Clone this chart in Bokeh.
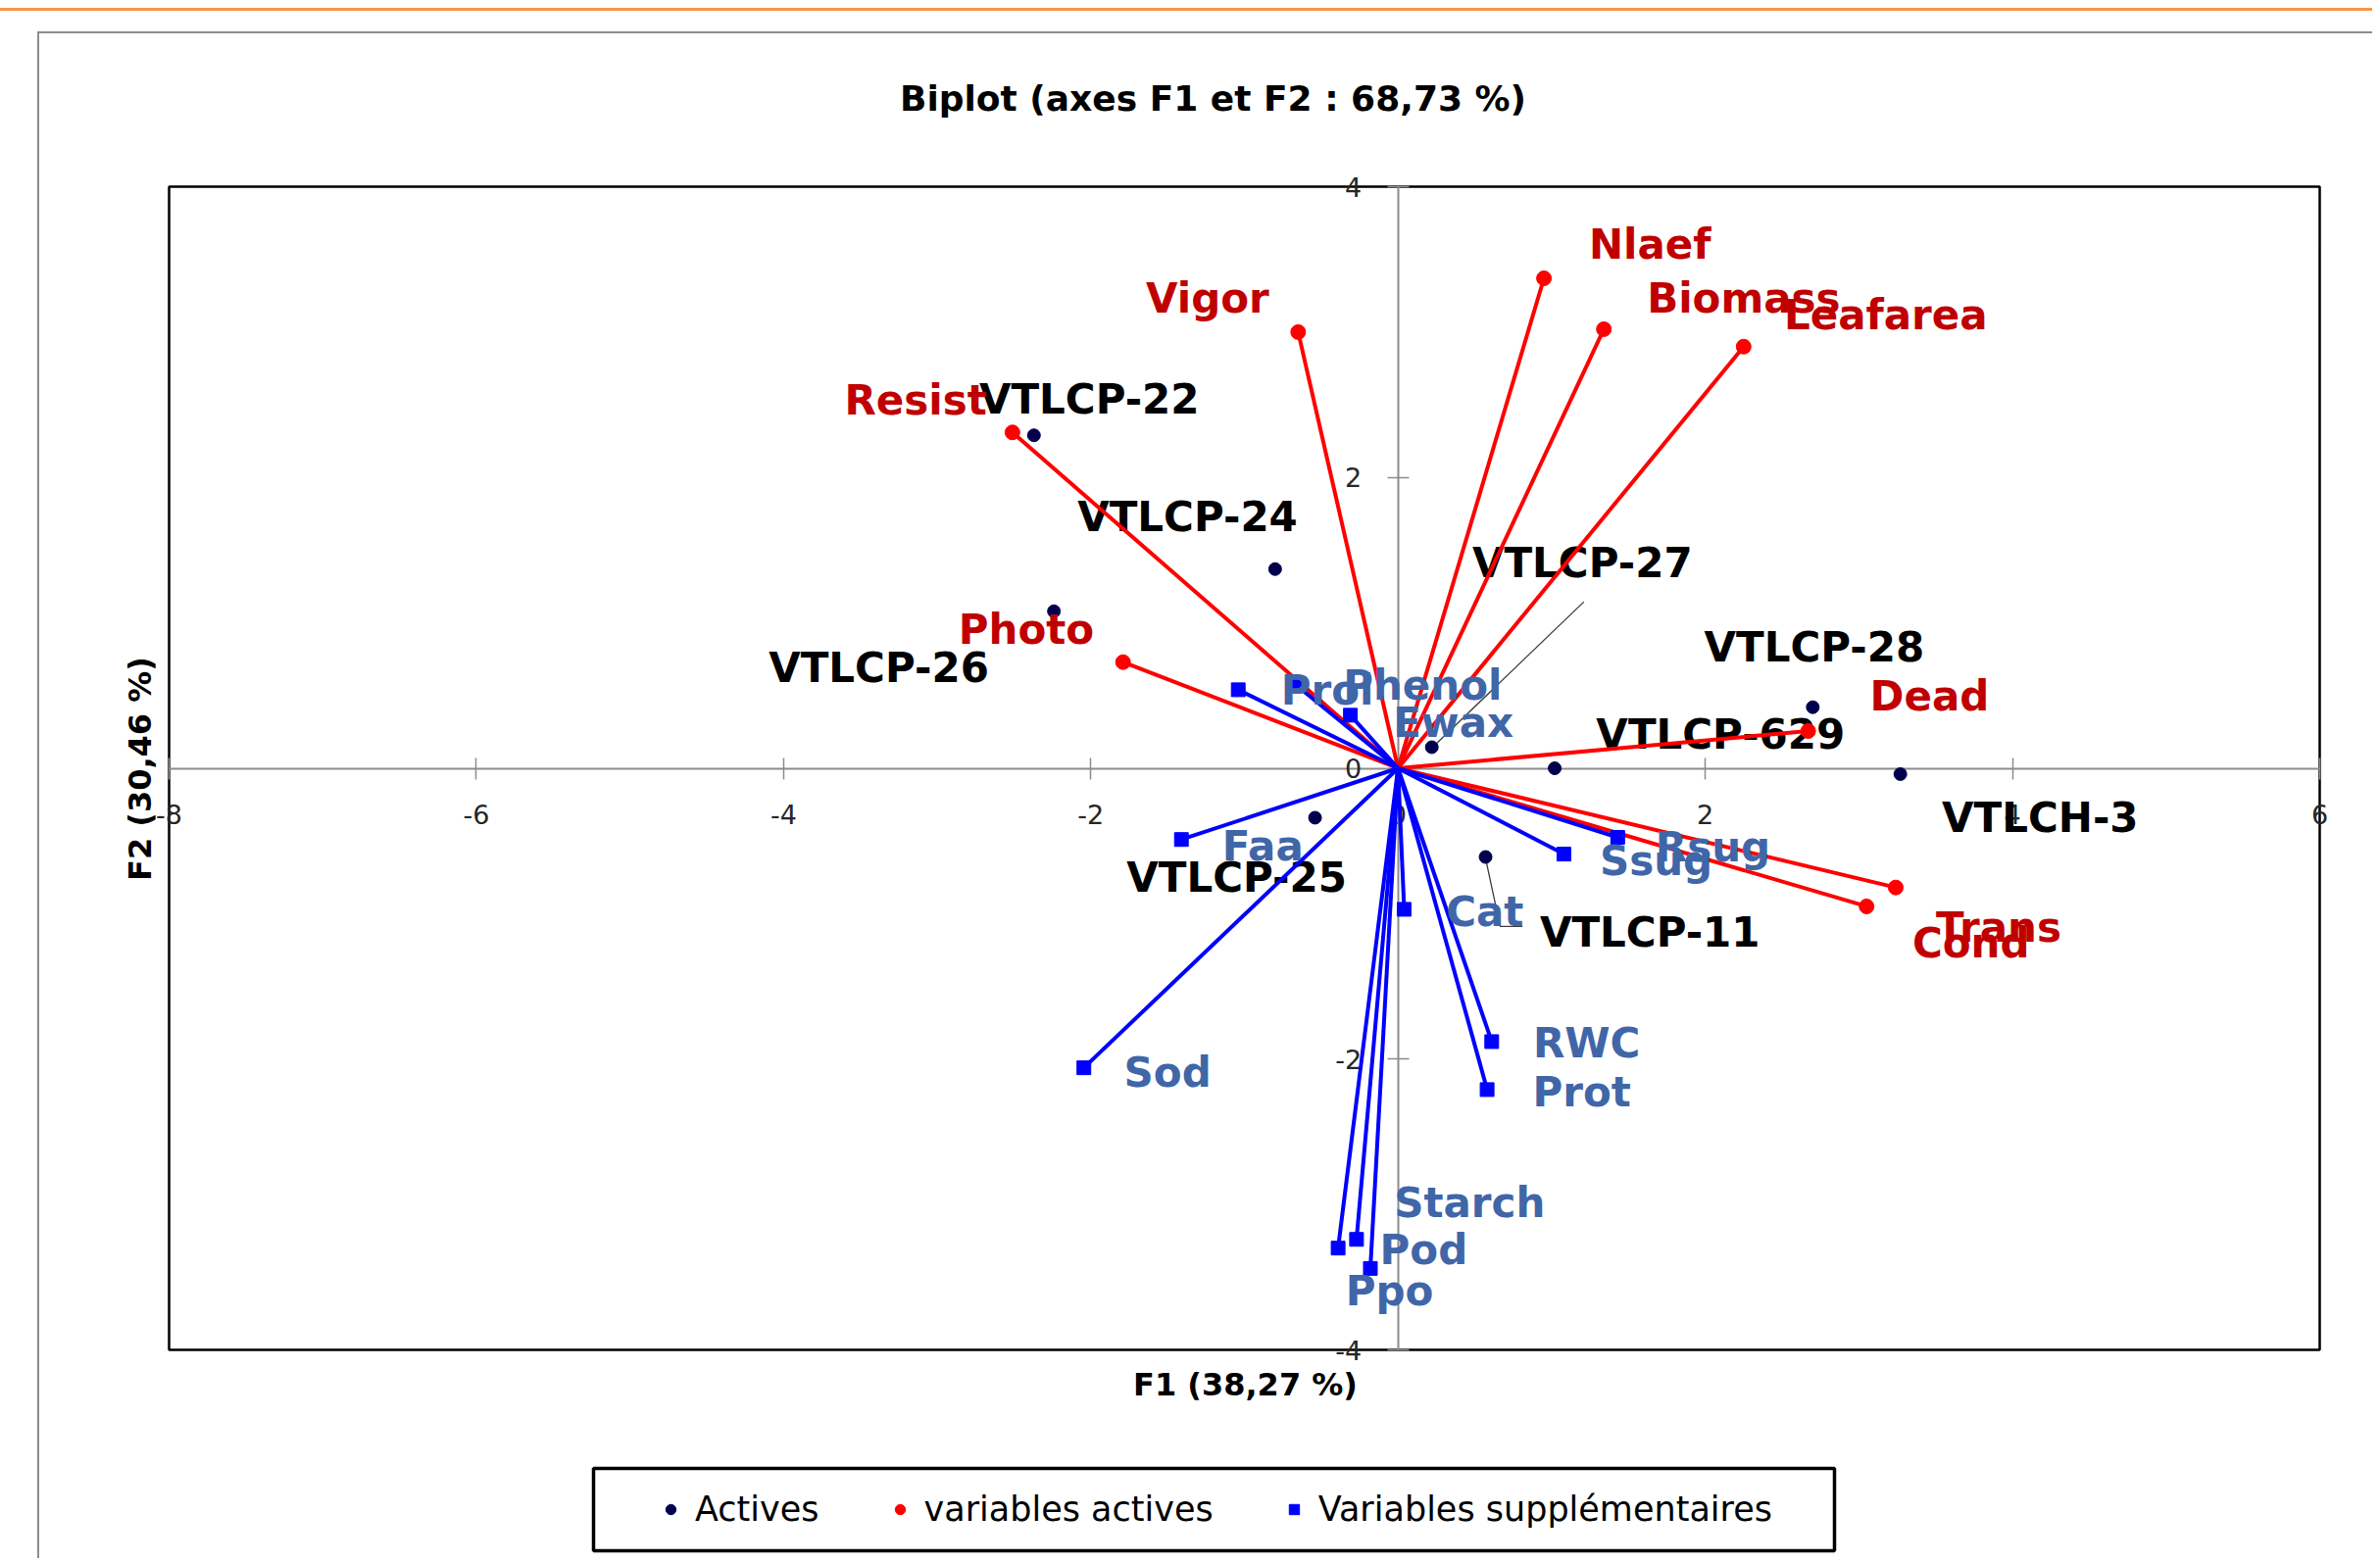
import math
from bokeh.plotting import figure
from bokeh.models import (Range1d, LinearAxis, FixedTicker, Legend, LegendItem,
                          ColumnDataSource)
from bokeh.core.properties import value
from bokeh.embed import file_html
from bokeh.resources import INLINE

# ---------------- data ----------------
title_text = "Biplot (axes F1 et F2 : 68,73 %)"
x_title = "F1 (38,27 %)"
y_title = "F2 (30,46 %)"
x_min, x_max = -8, 6
y_min, y_max = -4, 4
x_ticks = [-8, -6, -4, -2, 0, 2, 4, 6]
y_ticks = [-4, -2, 0, 2, 4]

# observations (Actives)
obs_names = ["VTLCP-22", "VTLCP-24", "VTLCP-26", "VTLCP-25", "VTLCP-27",
             "VTLCP-629", "VTLCP-28", "VTLCH-3", "VTLCP-11"]
obs_f1 = [-2.37, -0.80, -2.24, -0.54, 0.22, 1.02, 2.70, 3.27, 0.57]
obs_f2 = [2.29, 1.37, 1.08, -0.34, 0.145, 0.0, 0.42, -0.04, -0.61]
obs_label_f1 = [-2.01, -1.37, -3.38, -1.05, 1.20, 2.10, 2.71, 4.18, 1.64]
obs_label_f2 = [2.54, 1.73, 0.69, -0.75, 1.41, 0.23, 0.83, -0.34, -1.13]

# leader lines for displaced labels
leader_27_f1 = [0.25, 1.21]
leader_27_f2 = [0.17, 1.145]
leader_11_f1 = [0.57, 0.665, 0.81]
leader_11_f2 = [-0.62, -1.088, -1.088]

# active variables
var_names = ["Vigor", "Nlaef", "Biomass", "Leafarea", "Resist", "Photo",
             "Dead", "Trans", "Cond"]
var_f1 = [-0.65, 0.95, 1.34, 2.25, -2.51, -1.79, 2.67, 3.24, 3.05]
var_f2 = [3.00, 3.37, 3.02, 2.90, 2.31, 0.73, 0.256, -0.82, -0.95]
var_label_f1 = [-1.24, 1.64, 2.25, 3.175, -3.14, -2.42, 3.46, 3.91, 3.73]
var_label_f2 = [3.235, 3.60, 3.235, 3.117, 2.53, 0.954, 0.497, -1.095, -1.20]

# supplementary variables
sup_names = ["Prol", "Phenol", "Ewax", "Faa", "Sod", "Rsug", "Ssug", "Cat",
             "RWC", "Prot", "Starch", "Pod", "Ppo"]
sup_f1 = [-1.04, -0.66, -0.31, -1.41, -2.045, 1.43, 1.08, 0.04, 0.61, 0.58,
          -0.39, -0.27, -0.18]
sup_f2 = [0.54, 0.57, 0.365, -0.49, -2.06, -0.475, -0.59, -0.97, -1.88, -2.21,
          -3.30, -3.24, -3.44]
sup_label_f1 = [-0.46, 0.16, 0.36, -0.88, -1.50, 2.05, 1.68, 0.565, 1.228,
                1.196, 0.466, 0.167, -0.055]
sup_label_f2 = [0.535, 0.57, 0.315, -0.534, -2.09, -0.54, -0.64, -0.99, -1.89,
                -2.23, -2.99, -3.31, -3.595]

legend_labels = ["Actives", "variables actives", "Variables supplémentaires"]

# ---------------- layout / styles ----------------
FONT = "DejaVu Sans"
NAVY = "#00004D"
RED = "#FF0000"
RED_TXT = "#C00000"
BLUE = "#0000FF"
BLUE_TXT = "#4066A8"

W, H = 2420, 1590
# pixel position of the plot box (left, right, top, bottom)
PL, PR, PT, PB = 172, 2366, 190, 1377
ppx = (PR - PL) / (x_max - x_min)
ppy = (PB - PT) / (y_max - y_min)
x0 = x_min - PL / ppx
x1 = x_max + (W - PR) / ppx
y1 = y_max + PT / ppy
y0 = y_min - (H - PB) / ppy


def dx(px):
    return x0 + px / ppx


def dy(py):
    return y1 - py / ppy


p = figure(width=W, height=H, output_backend="svg", toolbar_location=None, tools="",
           x_range=Range1d(x0, x1), y_range=Range1d(y0, y1),
           x_axis_location=None, y_axis_location=None,
           min_border=0, min_border_left=0, min_border_right=0,
           min_border_top=0, min_border_bottom=0)
p.grid.visible = False
p.outline_line_color = None
p.background_fill_color = None
p.border_fill_color = None
# page accent line and chart-area border (CSS decoration only)
p.styles = {
    "background-color": "white",
    "box-shadow": ("inset 0 8px 0 0 white, inset 0 11px 0 0 #F79646, "
                   "inset 0 32px 0 0 white, inset 38px 0 0 0 white, "
                   "inset 0 34px 0 0 #8C8C8C, inset 40px 0 0 0 #8C8C8C"),
}

# plot box
p.quad(left=[x_min], right=[x_max], bottom=[y_min], top=[y_max],
       fill_color=None, line_color="black", line_width=2.5, level="underlay")

# axes crossing at the origin
AX_COL = "#8C8C8C"
xax = LinearAxis(fixed_location=0, ticker=FixedTicker(ticks=x_ticks),
                 bounds=(x_min, x_max),
                 major_label_overrides={t: str(t) for t in x_ticks}, level="underlay")
yax = LinearAxis(fixed_location=0, ticker=FixedTicker(ticks=y_ticks),
                 bounds=(y_min, y_max),
                 major_label_overrides={t: str(t) for t in y_ticks}, level="underlay")
for ax in (xax, yax):
    ax.axis_line_color = AX_COL
    ax.axis_line_width = 2
    ax.major_tick_line_color = AX_COL
    ax.major_tick_line_width = 1.5
    ax.major_tick_in = 11
    ax.major_tick_out = 11
    ax.minor_tick_line_color = None
    ax.major_label_text_font = FONT
    ax.major_label_text_font_size = "27px"
    ax.major_label_text_color = "#262626"
    ax.major_label_standoff = 26
p.add_layout(xax, "below")
p.add_layout(yax, "left")

# titles (as text in the canvas)
TTL = dict(text_font=value(FONT), text_font_style="bold", text_color="black",
           text_align="center", text_baseline="middle")
p.text(x=[dx(1237)], y=[dy(100)], text=[title_text], text_font_size="36px", **TTL)
p.text(x=[dx(1270)], y=[dy(1412)], text=[x_title], text_font_size="32px", **TTL)
p.text(x=[dx(142)], y=[dy(784)], text=[y_title], text_font_size="32px",
       angle=math.pi / 2, **TTL)

LBL = "42px"

# ---- observations ----
obs_src = ColumnDataSource(dict(x=obs_f1, y=obs_f2))
obs_lab = ColumnDataSource(dict(x=obs_label_f1, y=obs_label_f2, t=obs_names))
p.line(leader_27_f1, leader_27_f2, line_color="#3C3C3C", line_width=1.3)
p.line(leader_11_f1, leader_11_f2, line_color="#3C3C3C", line_width=1.3)
obs_r = p.scatter("x", "y", source=obs_src, marker="circle", size=13,
                  fill_color=NAVY, line_color=NAVY)
p.text("x", "y", text="t", source=obs_lab, text_font=value(FONT), text_font_size=LBL,
       text_font_style="bold", text_color="black", text_align="center",
       text_baseline="middle")

# ---- active variables ----
for xv, yv in zip(var_f1, var_f2):
    p.line([0, xv], [0, yv], line_color=RED, line_width=4)
var_src = ColumnDataSource(dict(x=var_f1, y=var_f2))
var_lab = ColumnDataSource(dict(x=var_label_f1, y=var_label_f2, t=var_names))
var_r = p.scatter("x", "y", source=var_src, marker="circle", size=15,
                  fill_color=RED, line_color=RED)
p.text("x", "y", text="t", source=var_lab, text_font=value(FONT), text_font_size=LBL,
       text_font_style="bold", text_color=RED_TXT, text_align="center",
       text_baseline="middle")

# ---- supplementary variables ----
for xv, yv in zip(sup_f1, sup_f2):
    p.line([0, xv], [0, yv], line_color=BLUE, line_width=4)
sup_src = ColumnDataSource(dict(x=sup_f1, y=sup_f2))
sup_lab = ColumnDataSource(dict(x=sup_label_f1, y=sup_label_f2, t=sup_names))
sup_r = p.scatter("x", "y", source=sup_src, marker="square", size=14,
                  fill_color=BLUE, line_color=BLUE)
p.text("x", "y", text="t", source=sup_lab, text_font=value(FONT), text_font_size=LBL,
       text_font_style="bold", text_color=BLUE_TXT, text_align="center",
       text_baseline="middle")

# ---- legend (frame drawn as a box, items from the Legend) ----
p.quad(left=[dx(605)], right=[dx(1871)], top=[dy(1498)], bottom=[dy(1582)],
       fill_color="white", line_color="black", line_width=3.5)
legend = Legend(items=[LegendItem(label=legend_labels[0], renderers=[obs_r]),
                       LegendItem(label=legend_labels[1], renderers=[var_r]),
                       LegendItem(label=legend_labels[2], renderers=[sup_r])],
                orientation="horizontal", location=(659, 30),
                glyph_width=50, glyph_height=26, label_standoff=0, spacing=57,
                padding=0, margin=0,
                label_text_font=FONT, label_text_font_size="35px",
                label_text_color="black",
                border_line_color=None, background_fill_alpha=0)
p.add_layout(legend, "center")

open("out.html", "w").write(file_html(p, INLINE))
